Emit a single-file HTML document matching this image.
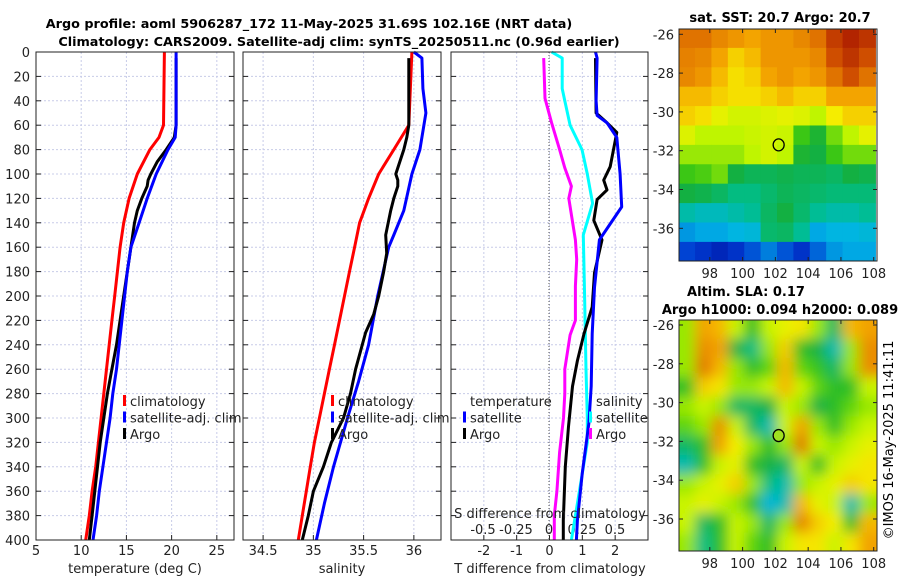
<!DOCTYPE html>
<html><head><meta charset="utf-8"><style>
html,body{margin:0;padding:0;background:#fff}
svg{display:block;font-family:"DejaVu Sans","Liberation Sans",sans-serif}
</style></head><body>
<svg id="fig" width="900" height="580" viewBox="0 0 900 580" xmlns="http://www.w3.org/2000/svg">
<defs>
<filter id="blur" x="0" y="0" width="100%" height="100%"><feGaussianBlur stdDeviation="6.5"/></filter>
<clipPath id="clipSla"><rect x="679" y="320" width="198" height="231"/></clipPath>
<clipPath id="clipSst"><rect x="679" y="29" width="198" height="232"/></clipPath>
</defs>
<text x="309" y="28" text-anchor="middle" font-size="12.8" font-weight="bold">Argo profile: aoml 5906287_172 11-May-2025 31.69S 102.16E (NRT data)</text>
<text x="339" y="46" text-anchor="middle" font-size="12.8" font-weight="bold">Climatology: CARS2009. Satellite-adj clim: synTS_20250511.nc (0.96d earlier)</text>
<text x="780" y="22" text-anchor="middle" font-size="13" font-weight="bold">sat. SST: 20.7 Argo: 20.7</text>
<text x="746" y="296" text-anchor="middle" font-size="13" font-weight="bold">Altim. SLA: 0.17</text>
<text x="780" y="314" text-anchor="middle" font-size="13" font-weight="bold">Argo h1000: 0.094 h2000: 0.089</text>
<text transform="translate(893,440) rotate(-90)" text-anchor="middle" font-size="13">©IMOS 16-May-2025 11:41:11</text>
<g id="g"></g>
</svg>
<script>
// ---- data ----
const depthTicks=[0,20,40,60,80,100,120,140,160,180,200,220,240,260,280,300,320,340,360,380,400];
const tTicks=[5,10,15,20,25];
const sTicks=[34.5,35,35.5,36];
const dtTicks=[-2,-1,0,1,2];
const dsTicks=[-0.5,-0.25,0,0.25,0.5];
const dsTickLabels=["-0.5","-0.25","0","0.25","0.5"];
const lonTicks=[98,100,102,104,106,108];
const latTicks=[-26,-28,-30,-32,-34,-36];

const tClimDepth=[0,60,70,80,100,120,140,160,180,200,220,240,260,280,300,320,340,360,380,400];
const tClimVal=[19.2,19.1,18.6,17.6,16.2,15.3,14.7,14.3,14.0,13.7,13.4,13.1,12.8,12.5,12.2,11.9,11.6,11.2,10.9,10.5];
const tSatDepth=[0,60,70,80,100,120,140,160,180,200,220,240,260,280,300,320,340,360,380,400];
const tSatVal=[20.5,20.5,20.4,19.6,18.3,17.3,16.4,15.5,15.1,14.8,14.5,14.2,13.9,13.5,13.2,12.8,12.4,12.0,11.7,11.3];
const tArgoDepth=[5,60,70,80,90,100,105,110,120,130,140,160,180,200,220,240,260,280,300,320,340,360,380,400];
const tArgoVal=[20.5,20.5,20.3,19.4,18.4,17.7,17.4,17.3,16.7,16.2,15.9,15.5,15.1,14.7,14.3,13.9,13.4,12.9,12.5,12.1,11.8,11.5,11.2,10.9];

const sClimDepth=[0,60,80,100,120,140,160,180,200,220,240,260,280,300,320,340,360,380,400];
const sClimVal=[35.98,35.95,35.8,35.65,35.55,35.46,35.41,35.36,35.31,35.26,35.21,35.16,35.11,35.06,35.01,34.97,34.93,34.89,34.85];
const sSatDepth=[0,5,30,50,80,100,130,150,160,200,240,270,300,340,370,400];
const sSatVal=[36.0,36.08,36.09,36.12,36.06,35.98,35.9,35.8,35.75,35.64,35.55,35.45,35.34,35.2,35.11,35.03];
const sArgoDepth=[5,60,70,80,95,100,105,110,120,130,150,165,180,200,215,230,260,280,300,320,340,360,380,400];
const sArgoVal=[35.95,35.95,35.93,35.9,35.84,35.82,35.84,35.84,35.8,35.77,35.72,35.73,35.7,35.65,35.6,35.52,35.42,35.37,35.3,35.18,35.1,35.0,34.95,34.89];

const dtSatDepth=[0,5,40,52,58,70,100,127,154,193,231,274,304,345,384,400];
const dtSatVal=[1.4,1.45,1.42,1.45,1.75,2.05,2.15,2.2,1.52,1.37,1.3,1.27,1.2,1.0,0.85,0.82];
const dtArgoDepth=[5,50,58,66,80,94,105,113,121,138,154,181,209,231,253,274,307,340,384,400];
const dtArgoVal=[1.4,1.42,1.75,2.05,1.95,1.85,1.65,1.75,1.45,1.35,1.6,1.37,1.3,1.05,0.85,0.7,0.58,0.48,0.42,0.42];
const dsSatDepth=[0,5,30,40,60,80,100,124,150,200,260,300,320,360,400];
const dsSatVal=[0.02,0.1,0.1,0.12,0.16,0.25,0.29,0.33,0.26,0.27,0.28,0.29,0.29,0.23,0.17];
const dsArgoDepth=[5,38,58,80,95,110,120,154,170,192,220,232,260,280,300,328,360,380,400];
const dsArgoVal=[-0.04,-0.03,0.02,0.08,0.12,0.17,0.15,0.2,0.21,0.2,0.2,0.16,0.12,0.12,0.11,0.08,0.06,0.04,0.04];

const sstGrid=[
[.85,.85,.82,.8,.78,.8,.8,.82,.85,.92,.95,.93],
[.83,.82,.78,.72,.75,.8,.8,.8,.82,.9,.93,.9],
[.82,.8,.75,.7,.72,.78,.8,.78,.8,.85,.9,.85],
[.75,.75,.72,.7,.7,.72,.75,.72,.72,.78,.78,.78],
[.72,.7,.66,.64,.64,.65,.66,.65,.62,.68,.72,.72],
[.65,.62,.62,.62,.63,.64,.63,.55,.5,.58,.62,.66],
[.6,.6,.6,.6,.62,.64,.62,.5,.48,.55,.58,.58],
[.55,.56,.58,.48,.46,.46,.47,.46,.46,.45,.48,.47],
[.48,.47,.45,.42,.42,.44,.46,.45,.44,.43,.43,.43],
[.38,.36,.36,.38,.4,.45,.48,.44,.4,.38,.38,.4],
[.28,.3,.3,.32,.33,.44,.45,.4,.3,.32,.32,.33],
[.18,.15,.12,.15,.2,.25,.2,.15,.22,.28,.3,.3]];
const slaGrid=[
[.6,.72,.7,.62,.55,.62,.64,.66,.6,.5,.7,.72],
[.6,.74,.72,.52,.48,.6,.68,.55,.52,.45,.6,.74],
[.6,.76,.7,.6,.55,.58,.7,.58,.56,.5,.6,.74],
[.55,.68,.66,.6,.6,.62,.7,.62,.58,.55,.55,.62],
[.6,.62,.6,.5,.5,.52,.62,.6,.52,.55,.58,.6],
[.58,.6,.74,.62,.5,.45,.62,.72,.6,.55,.6,.62],
[.5,.55,.72,.65,.6,.55,.6,.76,.62,.6,.62,.64],
[.45,.55,.62,.64,.55,.52,.5,.62,.55,.62,.64,.66],
[.6,.62,.64,.68,.6,.48,.45,.6,.62,.64,.68,.66],
[.62,.64,.62,.6,.55,.42,.45,.7,.64,.62,.45,.6],
[.62,.5,.55,.62,.6,.5,.6,.75,.68,.65,.55,.7],
[.6,.48,.55,.62,.58,.55,.62,.66,.66,.62,.66,.72]];
const gridLon0=96.1, gridLat0=-25.7;
const argoLon=102.2, argoLat=-31.7;

// ---- helpers ----
const NS="http://www.w3.org/2000/svg";
const G=document.getElementById('g');
function mk(tag,attrs,parent){const e=document.createElementNS(NS,tag);for(const k in attrs)e.setAttribute(k,attrs[k]);(parent||G).appendChild(e);return e;}
const plotTop=52,plotBot=540;
const yD=d=>plotTop+(plotBot-plotTop)*d/400;
const panels=[{x0:36,x1:234,min:5,max:26.9},{x0:243,x1:441,min:34.3,max:36.27},{x0:451,x1:648,min:-3,max:3}];
function sx(p,v){return p.x0+(v-p.min)/(p.max-p.min)*(p.x1-p.x0);}
const dsX=v=>549+132*v;

panels.forEach((p,i)=>{
  const fr=mk('rect',{x:p.x0,y:plotTop,width:p.x1-p.x0,height:plotBot-plotTop,fill:'#fff',stroke:'none'});
  
  
  depthTicks.forEach(d=>{
    const l=mk('line',{x1:p.x0,x2:p.x1,y1:yD(d),y2:yD(d),stroke:'#c8cce8','stroke-dasharray':'2,2','stroke-width':1});
    
    
    mk('line',{x1:p.x0,x2:p.x0+5,y1:yD(d),y2:yD(d),stroke:'#222'});
    mk('line',{x1:p.x1-5,x2:p.x1,y1:yD(d),y2:yD(d),stroke:'#222'});
  });
});
depthTicks.forEach(d=>{
  const t=mk('text',{x:30,y:yD(d)+5,'text-anchor':'end','font-size':13,fill:'#222'});t.textContent=d;
  
  
});
function xTicks(p,vals,labels,yText,xf){
  vals.forEach((v,k)=>{
    const x=xf?xf(v):sx(p,v);
    const l=mk('line',{x1:x,x2:x,y1:plotTop,y2:plotBot,stroke:'#c8cce8','stroke-dasharray':'2,2'});
    
    
    mk('line',{x1:x,x2:x,y1:plotBot-5,y2:plotBot,stroke:'#222'});
    const t=mk('text',{x:x,y:yText,'text-anchor':'middle','font-size':13,fill:'#222'});t.textContent=labels?labels[k]:v;
    
    
  });
}
xTicks(panels[0],tTicks,null,555);
xTicks(panels[1],sTicks,null,555);
xTicks(panels[2],dtTicks,null,555);
const zl=mk('line',{x1:549,x2:549,y1:plotTop,y2:plotBot,stroke:'#555','stroke-dasharray':'1,2'});


dsTicks.forEach((v,k)=>{
  const t=mk('text',{x:dsX(v),y:534,'text-anchor':'middle','font-size':13,fill:'#222'});t.textContent=dsTickLabels[k];
  
  
});
function line(p,depths,vals,color,name,xf,w){
  const pts=depths.map((d,k)=>(xf?xf(vals[k]):sx(p,vals[k])).toFixed(1)+','+yD(d).toFixed(1)).join(' ');
  const e=mk('polyline',{points:pts,fill:'none',stroke:color,'stroke-width':w||3,'stroke-linejoin':'round'});
  
  
}
line(panels[0],tClimDepth,tClimVal,'#ff0000','temp-climatology-line');
line(panels[0],tArgoDepth,tArgoVal,'#000','temp-argo-line');
line(panels[0],tSatDepth,tSatVal,'#0000ff','temp-satellite-line');
line(panels[1],sClimDepth,sClimVal,'#ff0000','sal-climatology-line');
line(panels[1],sSatDepth,sSatVal,'#0000ff','sal-satellite-line');
line(panels[1],sArgoDepth,sArgoVal,'#000','sal-argo-line');
line(null,dsArgoDepth,dsArgoVal,'#ff00ff','sdiff-argo-line',dsX);
line(null,dsSatDepth,dsSatVal,'#00ffff','sdiff-satellite-line',dsX);
line(panels[2],dtArgoDepth,dtArgoVal,'#000','tdiff-argo-line');
line(panels[2],dtSatDepth,dtSatVal,'#0000ff','tdiff-satellite-line');
panels.forEach((p,i)=>{
  const fr=mk('rect',{x:p.x0,y:plotTop,width:p.x1-p.x0,height:plotBot-plotTop,fill:'none',stroke:'#222','stroke-width':1});
  
  
});
[[135,'temperature (deg C)','temp-axis-title'],[342,'salinity','sal-axis-title'],[550,'T difference from climatology','tdiff-axis-title']].forEach(a=>{
  const t=mk('text',{x:a[0],y:573,'text-anchor':'middle','font-size':13,fill:'#222'});t.textContent=a[1];
  
  
});
const st=mk('text',{x:550,y:518,'text-anchor':'middle','font-size':13,fill:'#222'});st.textContent='S difference from climatology';


function legend(x,y,items,name){
  items.forEach((it,k)=>{
    if(it[0]){const m=mk('rect',{x:x-7,y:y+k*16.5-11,width:3,height:11,fill:it[0]});
      
      }
    const t=mk('text',{x:x,y:y+k*16.5,'font-size':13,fill:'#222'});t.textContent=it[1];
    
    
  });
}
legend(130,406,[['#ff0000','climatology'],['#0000ff','satellite-adj. clim'],['#000','Argo']],'temp-legend');
legend(338,406,[['#ff0000','climatology'],['#0000ff','satellite-adj. clim'],['#000','Argo']],'sal-legend');
legend(470,406,[[null,'temperature'],['#0000ff','satellite'],['#000','Argo']],'tdiff-legend');
legend(596,406,[[null,'salinity'],['#00ffff','satellite'],['#ff00ff','Argo']],'sdiff-legend');

// ---- maps ----
const cstops=[[0,[0,0,140]],[0.15,[0,60,210]],[0.3,[0,180,230]],[0.4,[0,190,140]],[0.48,[20,175,60]],[0.55,[60,200,20]],[0.62,[190,245,0]],[0.68,[245,240,0]],[0.78,[245,170,0]],[0.9,[215,90,0]],[1,[160,10,0]]];
function cmap(v){v=Math.max(0,Math.min(1,v));for(let i=1;i<cstops.length;i++){if(v<=cstops[i][0]){const a=cstops[i-1],b=cstops[i],f=(v-a[0])/(b[0]-a[0]);return 'rgb('+a[1].map((c,j)=>Math.round(c+(b[1][j]-c)*f)).join(',')+')';}}return 'rgb(160,10,0)';}
function mapAxes(x0,lat26y){
  const lonX=l=>x0+(l-96.12)/(108.2-96.12)*198;
  const latY=l=>lat26y+(-26-l)*19.4;
  return {lonX,latY};
}
function drawMap(grid,x0,y0,h,lat26y,name,blur,cmid,cgain){
  const ax=mapAxes(x0,lat26y);
  const g=mk('g',{'clip-path':'url(#'+(blur?'clipSla':'clipSst')+')'});
  
  
  const inner=mk('g',blur?{filter:'url(#blur)'}:{},g);
  grid.forEach((row,r)=>row.forEach((v,c)=>{
    const xa=ax.lonX(gridLon0+c), xb=ax.lonX(gridLon0+c+1);
    const ya=ax.latY(gridLat0-r), yb=ax.latY(gridLat0-r-1);
    const pad=blur?14:0;
    const x1=c==0?xa-pad:xa, x2=c==row.length-1?xb+pad:xb;
    const y1=r==0?ya-pad:ya, y2=r==grid.length-1?yb+pad:yb;
    const cell=mk('rect',{x:x1,y:y1,width:x2-x1+0.6,height:y2-y1+0.6,fill:cmap(cmid+(v-cmid)*cgain)},inner);
    
    
  }));
  const fr=mk('rect',{x:x0,y:y0,width:198,height:h,fill:'none',stroke:'#222'});
  
  
  lonTicks.forEach(l=>{
    const x=ax.lonX(l);
    mk('line',{x1:x,x2:x,y1:y0+h-4,y2:y0+h,stroke:'#222'});
    mk('line',{x1:x,x2:x,y1:y0,y2:y0+4,stroke:'#222'});
    const t=mk('text',{x:x,y:y0+h+17,'text-anchor':'middle','font-size':13,fill:'#222'});t.textContent=l;
    
    
  });
  latTicks.forEach(l=>{
    const y=ax.latY(l);
    mk('line',{x1:x0,x2:x0+4,y1:y,y2:y,stroke:'#222'});
    mk('line',{x1:x0+194,x2:x0+198,y1:y,y2:y,stroke:'#222'});
    const t=mk('text',{x:x0-5,y:y+5,'text-anchor':'end','font-size':13,fill:'#222'});t.textContent=l;
    
    
  });
  const m=mk('ellipse',{cx:ax.lonX(argoLon),cy:ax.latY(argoLat),rx:5.5,ry:6,fill:blur?'#a0e020':'none',stroke:'#000','stroke-width':1.3});
  
  
}
drawMap(sstGrid,679,29,232,34.3,'sst-map',false,0.6,1.05);
drawMap(slaGrid,679,320,231,325,'sla-map',true,0.6,1.6);
</script>
</body></html>
